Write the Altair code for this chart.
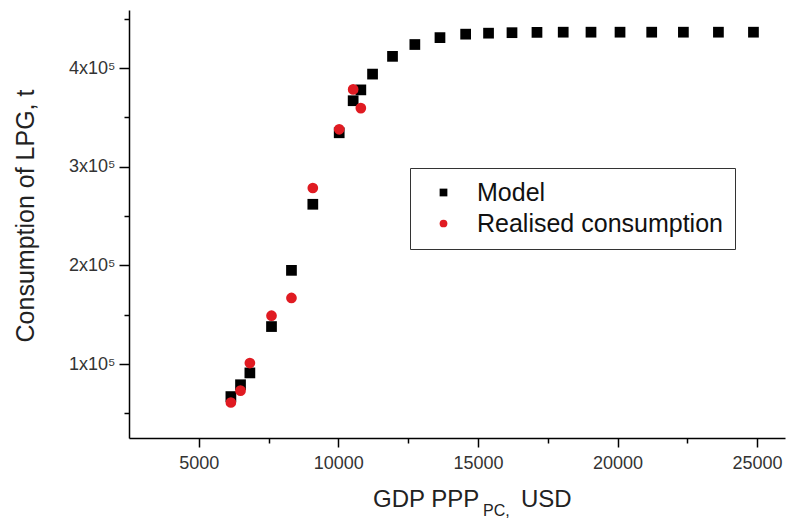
import altair as alt
import pandas as pd

# ---- data ----
model_gdp = [6150, 6495, 6830, 7605, 8320, 9085, 10030, 10530, 10805, 11225, 11940,
             12740, 13640, 14560, 15380, 16220, 17115, 18055, 19050, 20090, 21225,
             22360, 23615, 24870]
model_lpg = [67000, 79000, 91000, 138000, 195000, 262000, 334500, 367000, 378000,
             394000, 412000, 424000, 431000, 434500, 435500, 436000, 436300, 436500,
             436500, 436500, 436500, 436500, 436500, 436500]
real_gdp = [6150, 6495, 6830, 7605, 8320, 9085, 10030, 10530, 10805]
real_lpg = [61000, 73000, 101000, 149000, 167000, 278500, 338000, 378500, 359500]

series_names = ["Model", "Realised consumption"]
x_major = [5000, 10000, 15000, 20000, 25000]
x_minor = [7500, 12500, 17500, 22500]
y_major = [100000, 200000, 300000, 400000]
y_minor = [50000, 150000, 250000, 350000, 450000]
x_title_main = "GDP PPP"
x_title_sub = "PC,"
x_title_tail = "USD"
y_title = "Consumption of LPG, t"

rows = [{"gdp": g, "lpg": v, "series": series_names[0]} for g, v in zip(model_gdp, model_lpg)]
rows += [{"gdp": g, "lpg": v, "series": series_names[1]} for g, v in zip(real_gdp, real_lpg)]
df = pd.DataFrame(rows)

W, H = 656, 428
xscale = alt.Scale(domain=[2500, 26000], nice=False, zero=False)
yscale = alt.Scale(domain=[25000, 459000], nice=False, zero=False)
FONT = "Liberation Sans"

common_axis = dict(title=None, grid=False, domainColor="black", domainWidth=1.5,
                   tickColor="black", tickWidth=1.5, labelFont=FONT,
                   labelColor="#333333", labelFontSize=18)

legend = alt.Legend(title=None, orient="none", legendX=281, legendY=158,
                    strokeColor="#333333", fillColor="white",
                    padding=12, symbolOffset=9, symbolSize=60,
                    labelFontSize=25, labelFont=FONT, labelColor="#111",
                    labelOffset=21, rowPadding=5, labelLimit=400)

points = alt.Chart(df).mark_point(filled=True, opacity=1, size=115).encode(
    x=alt.X("gdp:Q", scale=xscale,
            axis=alt.Axis(values=x_major, tickSize=9, labelPadding=7,
                          format="d", orient="bottom", **common_axis)),
    y=alt.Y("lpg:Q", scale=yscale,
            axis=alt.Axis(values=y_major, tickSize=10, labelPadding=4,
                          labelExpr="format(datum.value/100000,'d') + 'x10\u2075'",
                          orient="left", **common_axis)),
    color=alt.Color("series:N",
                    scale=alt.Scale(domain=series_names, range=["#000000", "#e01b22"]),
                    legend=legend),
    shape=alt.Shape("series:N",
                    scale=alt.Scale(domain=series_names, range=["square", "circle"]),
                    legend=legend),
)

minor = alt.Chart(df).mark_point(opacity=0).encode(
    x=alt.X("gdp:Q", scale=xscale,
            axis=alt.Axis(values=x_minor, tickSize=5, labels=False,
                          domain=False, orient="bottom", **common_axis)),
    y=alt.Y("lpg:Q", scale=yscale,
            axis=alt.Axis(values=y_minor, tickSize=5, labels=False,
                          domain=False, orient="left", **common_axis)),
)

def txt(s, x, y, size, angle=0, align="left", baseline="alphabetic"):
    return alt.Chart(pd.DataFrame({"t": [s]})).mark_text(
        font=FONT, fontSize=size, color="#222222", align=align, baseline=baseline,
        angle=angle
    ).encode(text="t:N", x=alt.value(x), y=alt.value(y))

t1 = txt(x_title_main, 244, 497, 24)
t2 = txt(x_title_sub, 354, 506, 16)
t3 = txt(x_title_tail, 392, 497, 24)
t4 = txt(y_title, -103, 206, 25, angle=270, align="center", baseline="middle")

chart = alt.layer(minor, points, t1, t2, t3, t4).resolve_axis(
    x="independent", y="independent"
).properties(
    width=W, height=H,
    autosize=alt.AutoSizeParams(type="none"),
    padding={"left": 129, "top": 10, "right": 3, "bottom": 82},
    background="white",
).configure_view(strokeWidth=0)

chart.save("out.html", embed_options={"renderer": "svg", "actions": False})
